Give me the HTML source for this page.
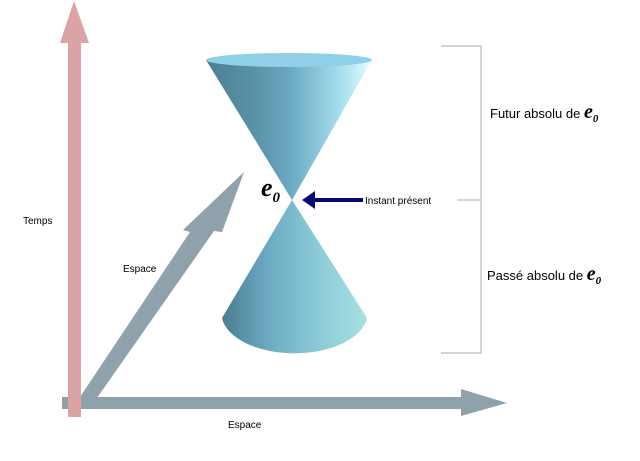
<!DOCTYPE html>
<html><head><meta charset="utf-8"><style>html,body{margin:0;padding:0;background:#fff}svg{display:block}</style></head>
<body>
<svg width="640" height="461" viewBox="0 0 640 461" xmlns="http://www.w3.org/2000/svg">
<defs>
<linearGradient id="gt" x1="0" y1="0" x2="1" y2="0">
<stop offset="0" stop-color="#4a7e92"/><stop offset="0.35" stop-color="#5d97ad"/><stop offset="0.5" stop-color="#6aa8c0"/><stop offset="0.8" stop-color="#a2dced"/><stop offset="1" stop-color="#e6fcff"/>
</linearGradient>
<linearGradient id="gb" x1="0" y1="0" x2="1" y2="0">
<stop offset="0" stop-color="#4a7d8f"/><stop offset="0.3" stop-color="#6aa8c0"/><stop offset="0.6" stop-color="#86c6d4"/><stop offset="1" stop-color="#a6e2e2"/>
</linearGradient>
</defs>
<!-- horizontal axis -->
<polygon points="62,397 461,397 461,389 507,403 461,416 461,409 62,409" fill="#8fa1ab"/>
<!-- diagonal axis -->
<polygon points="78,400 190,232 183,230 244,172 222,232 214,231 92,405" fill="#8fa1ab"/>
<!-- time axis -->
<polygon points="68,417 68,43 60,43 74,1 89,43 81,43 81,417" fill="#dba3a3"/>
<!-- top cone -->
<polygon points="206,60 292,200 372,60" fill="url(#gt)"/>
<ellipse cx="289" cy="60" rx="83" ry="7" fill="#8fd0e8"/>
<!-- bottom cone -->
<path d="M292,200 L222,318 A73,40 0 0 0 367,318 Z" fill="url(#gb)"/>
<!-- instant arrow -->
<polygon points="302,200 315,191 315,198 363,198 363,202 315,202 315,209" fill="#0a0a6e"/>
<text x="365" y="204" font-family="Liberation Sans, sans-serif" font-size="10">Instant présent</text>
<text x="261" y="196" font-family="Liberation Serif, serif" font-weight="bold" font-style="italic" font-size="26">e<tspan font-size="15" dy="6">0</tspan></text>
<!-- bracket -->
<polyline points="441,46 481,46 481,353 441,353" fill="none" stroke="#aaa" stroke-width="1"/>
<line x1="457" y1="200" x2="481" y2="200" stroke="#aaa"/>
<text x="490" y="118" font-family="Liberation Sans, sans-serif" font-size="13">Futur absolu de <tspan font-family="Liberation Serif, serif" font-weight="bold" font-style="italic" font-size="20">e</tspan><tspan font-family="Liberation Serif, serif" font-weight="bold" font-style="italic" font-size="11" dy="4">0</tspan></text>
<text x="487" y="280" font-family="Liberation Sans, sans-serif" font-size="13">Passé absolu de <tspan font-family="Liberation Serif, serif" font-weight="bold" font-style="italic" font-size="20">e</tspan><tspan font-family="Liberation Serif, serif" font-weight="bold" font-style="italic" font-size="11" dy="4">0</tspan></text>
<text x="23" y="224" font-family="Liberation Sans, sans-serif" font-size="10">Temps</text>
<text x="123" y="272" font-family="Liberation Sans, sans-serif" font-size="10">Espace</text>
<text x="228" y="428" font-family="Liberation Sans, sans-serif" font-size="10">Espace</text>
</svg>
</body></html>
